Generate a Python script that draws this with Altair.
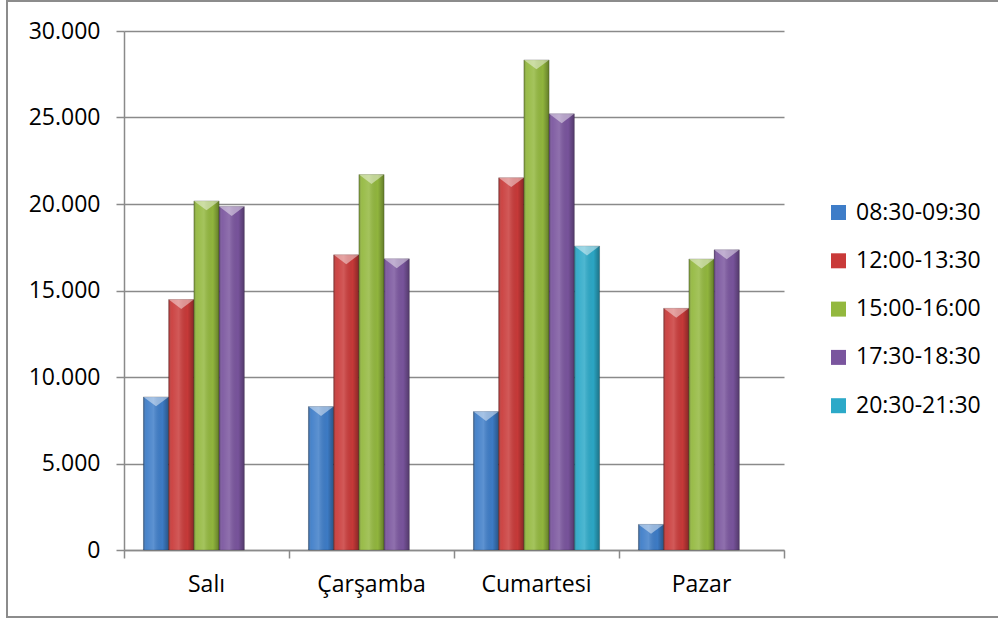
import altair as alt
import pandas as pd

# Visitor counts per day and time slot
days = ["Salı", "Çarşamba", "Cumartesi", "Pazar"]
slots = ["08:30-09:30", "12:00-13:30", "15:00-16:00", "17:30-18:30", "20:30-21:30"]
slot_colors = ["#3E7DC8", "#C93A39", "#93B83E", "#7A559E", "#2CA9C8"]

salı = [8850, 14480, 20180, 19850, None]
çarşamba = [8290, 17060, 21700, 16830, None]
cumartesi = [8000, 21520, 28330, 25210, 17570]
pazar = [1480, 13970, 16820, 17350, None]

rows = []
for day, vals in zip(days, [salı, çarşamba, cumartesi, pazar]):
    for slot, v in zip(slots, vals):
        if v is not None:
            rows.append({"gün": day, "saat": slot, "değer": v})
df = pd.DataFrame(rows)

FONT = "Open Sans"
GRID = "#8a8a8a"
W, H = 660, 519

x_enc = alt.X(
    "gün:N",
    sort=days,
    title=None,
    scale=alt.Scale(paddingInner=0, paddingOuter=0),
    axis=alt.Axis(
        labelAngle=0,
        bandPosition=1,
        tickExtra=True,
        tickSize=8,
        tickColor=GRID,
        domainColor=GRID,
        tickWidth=1.5,
        domainWidth=1.5,
        labelFont=FONT,
        labelFontSize=23,
        labelColor="#000000",
        labelPadding=15,
    ),
)
# bars fill about three quarters of each day's slot, centred
xo_enc = alt.XOffset("saat:N", scale=alt.Scale(domain=slots, paddingInner=0, paddingOuter=0.77))
y_enc = alt.Y(
    "değer:Q",
    title=None,
    scale=alt.Scale(domain=[0, 30000], nice=False),
    axis=alt.Axis(
        values=[0, 5000, 10000, 15000, 20000, 25000, 30000],
        labelExpr="replace(format(datum.value, ','), ',', '.')",
        grid=True,
        gridColor=GRID,
        gridWidth=1.5,
        tickSize=8,
        tickColor=GRID,
        tickWidth=1.5,
        domainColor=GRID,
        domainWidth=1.5,
        labelFont=FONT,
        labelFontSize=23,
        labelColor="#000000",
        labelPadding=16,
    ),
)

base = alt.Chart(df)

bars = base.mark_bar(stroke="#00000055", strokeWidth=0.6).encode(
    x=x_enc,
    xOffset=xo_enc,
    y=y_enc,
    color=alt.Color(
        "saat:N",
        scale=alt.Scale(domain=slots, range=slot_colors),
        legend=alt.Legend(
            title=None,
            orient="none",
            legendX=703,
            legendY=170,
            symbolType="square",
            symbolSize=225,
            symbolStrokeWidth=0,
            labelFont=FONT,
            labelFontSize=23,
            labelColor="#000000",
            labelOffset=6,
            rowPadding=24.3,
            padding=0,
        ),
    ),
)

# horizontal shading across each bar for a rounded, glossy look
shade = base.mark_bar(
    color={
        "gradient": "linear",
        "x1": 0, "x2": 1, "y1": 0, "y2": 0,
        "stops": [
            {"offset": 0.0, "color": "rgba(0,0,0,0.30)"},
            {"offset": 0.12, "color": "rgba(255,255,255,0.06)"},
            {"offset": 0.40, "color": "rgba(255,255,255,0.16)"},
            {"offset": 0.75, "color": "rgba(0,0,0,0.02)"},
            {"offset": 1.0, "color": "rgba(0,0,0,0.32)"},
        ],
    }
).encode(x=x_enc, xOffset=xo_enc, y=y_enc)

# light bevel triangle at the top of every bar
bevel = base.mark_point(
    shape="M-1,0L1,0L0,0.75Z",
    size=630,
    filled=True,
    fill="white",
    fillOpacity=0.45,
    strokeWidth=0,
).encode(x=x_enc, xOffset=xo_enc, y=y_enc)

# frame around the whole chart
frame = alt.Chart(pd.DataFrame({"k": [0]})).mark_rect(
    fill="transparent", stroke="#8c8c8c", strokeWidth=2
).encode(
    x=alt.value(-117), x2=alt.value(900), y=alt.value(-30), y2=alt.value(586)
)

chart = (
    alt.layer(bars, shade, bevel, frame)
    .properties(
        width=W,
        height=H,
        autosize=alt.AutoSizeParams(type="none"),
        padding={"left": 124, "top": 31, "right": 214, "bottom": 69},
        background="white",
    )
    .configure_view(stroke=None)
)

chart.save("out.html", embed_options={"renderer": "svg", "actions": False})
